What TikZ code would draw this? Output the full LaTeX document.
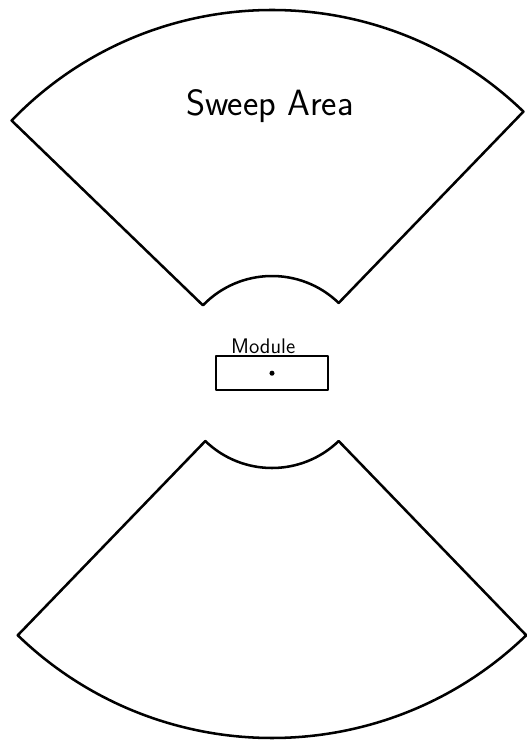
\documentclass[tikz,border=0pt]{standalone}
\usepackage{tikz}
\usetikzlibrary{positioning}
\tikzset{
  sw diagram/.style={font=\sffamily, line cap=round, line join=round},
  sw sector/.style={draw=black, line width=1.8pt},
  sw box/.style={draw=black, line width=1.8pt, minimum width=2.8cm,
    minimum height=0.85cm, inner sep=0pt},
  sw label/.style={font=\sffamily\fontsize{15}{18}\selectfont, inner sep=1pt},
  sw title/.style={font=\sffamily\fontsize{26}{30}\selectfont}
}

\begin{document}
\begin{tikzpicture}[sw diagram]
\useasboundingbox (-6.8,-9.25) rectangle (6.35,9.3);
% upper sweep sector
\draw[sw sector] (46:2.4) -- (46:9.05) arc[start angle=46, end angle=136, radius=9.05]
  -- (136:2.4) arc[start angle=136, end angle=46, radius=2.4] -- cycle;
% lower sweep sector
\draw[sw sector] (226:2.4) -- (226:9.15) arc[start angle=226, end angle=314, radius=9.15]
  -- (314:2.4) arc[start angle=314, end angle=226, radius=2.4] -- cycle;
\node[sw title] (sweep) at (-0.05,6.65) {Sweep Area};
\node[sw box] (module) at (0,-0.03) {};
\node[sw label, anchor=south] (modlabel) at ([xshift=-0.22cm]module.north) {Module};
\fill (module.center) circle (1.8pt);
\end{tikzpicture}
\end{document}
